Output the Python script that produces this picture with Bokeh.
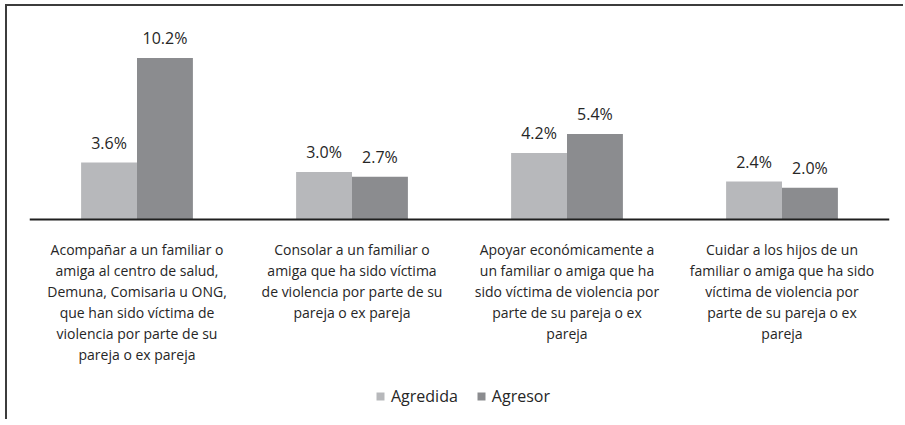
from bokeh.plotting import figure
from bokeh.models import ColumnDataSource, FactorRange, Range1d, Legend, LegendItem, Span
from bokeh.transform import dodge
from bokeh.core.properties import value
from bokeh.embed import file_html
from bokeh.resources import INLINE

categories = [
    "Acompañar a un familiar o\namiga al centro de salud,\nDemuna, Comisaria u ONG,\nque han sido víctima de\nviolencia por parte de su\npareja o ex pareja",
    "Consolar a un familiar o\namiga que ha sido víctima\nde violencia por parte de su\npareja o ex pareja",
    "Apoyar económicamente a\nun familiar o amiga que ha\nsido víctima de violencia por\nparte de su pareja o ex\npareja",
    "Cuidar a los hijos de un\nfamiliar o amiga que ha sido\nvíctima de violencia por\nparte de su pareja o ex\npareja",
]
agredida = [3.6, 3.0, 4.2, 2.4]
agresor = [10.2, 2.7, 5.4, 2.0]
series_names = ["Agredida", "Agresor"]

FONT = "Open Sans"
TXT = "#262626"
C1 = "#b7b8bb"
C2 = "#8b8c8f"

src = ColumnDataSource(dict(
    cat=categories,
    agredida=agredida,
    agresor=agresor,
    base=[0] * len(categories),
    lab1=[f"{v:.1f}%" for v in agredida],
    lab2=[f"{v:.1f}%" for v in agresor],
))

p = figure(x_range=FactorRange(factors=categories), y_range=Range1d(-12.63, 12.57),
           frame_width=860, frame_height=399, output_backend="svg", toolbar_location=None,
           min_border_left=22, min_border_right=14, min_border_top=14, min_border_bottom=0,
           outline_line_color=None, background_fill_color="white", border_fill_color="white",
           styles={"border-top": "2px solid #3c3c3c", "border-left": "2px solid #3c3c3c",
                   "margin-left": "5px", "margin-top": "4px"})
p.xaxis.visible = False
p.yaxis.visible = False
p.xgrid.grid_line_color = None
p.ygrid.grid_line_color = None

r1 = p.vbar(x=dodge("cat", -0.13, range=p.x_range), top="agredida", bottom="base", width=0.26,
            source=src, fill_color=C1, line_color=None)
r2 = p.vbar(x=dodge("cat", 0.13, range=p.x_range), top="agresor", bottom="base", width=0.26,
            source=src, fill_color=C2, line_color=None)

# baseline (category axis line)
p.add_layout(Span(location=0, dimension="width", line_color="#1f1f1f", line_width=2))

p.text(x=dodge("cat", -0.13, range=p.x_range), y="agredida", text="lab1", source=src,
       text_align="center", text_baseline="middle", y_offset=-20,
       text_font=value(FONT), text_font_size="16px", text_color=TXT)
p.text(x=dodge("cat", 0.13, range=p.x_range), y="agresor", text="lab2", source=src,
       text_align="center", text_baseline="middle", y_offset=-20,
       text_font=value(FONT), text_font_size="16px", text_color=TXT)

# category labels under the baseline
p.text(x="cat", y="base", text="cat", source=src,
       text_align="center", text_baseline="top", y_offset=20,
       text_font=value(FONT), text_font_size="14px", text_color=TXT,
       text_line_height=1.11)

legend = Legend(items=[LegendItem(label=series_names[0], renderers=[r1]),
                       LegendItem(label=series_names[1], renderers=[r2])],
                orientation="horizontal", location=(346, 12),
                glyph_width=10, glyph_height=10, label_standoff=6, spacing=18,
                padding=5, margin=0, border_line_color=None, background_fill_alpha=0,
                label_text_font=FONT, label_text_font_size="16px", label_text_color=TXT)
p.add_layout(legend, "center")

open("out.html", "w").write(file_html(p, INLINE))
